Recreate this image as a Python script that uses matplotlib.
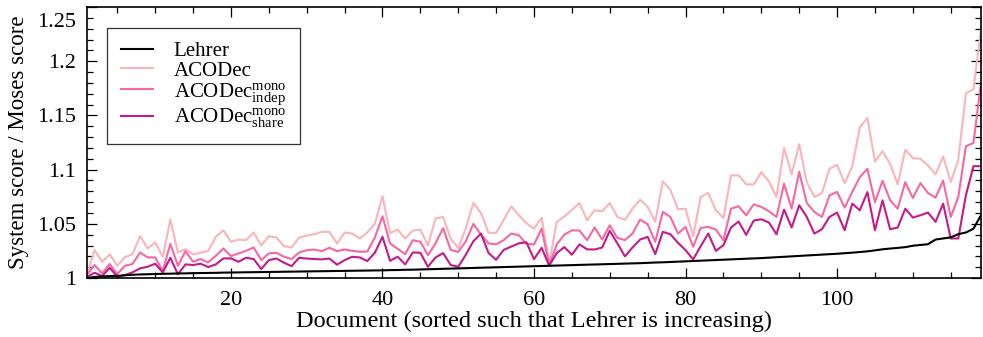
import numpy as np
import matplotlib
matplotlib.use("Agg")
import matplotlib.pyplot as plt
from matplotlib.ticker import MultipleLocator, FuncFormatter
from matplotlib.transforms import ScaledTranslation

plt.rcParams['font.family'] = ['Liberation Serif', 'DejaVu Serif']
plt.rcParams['mathtext.fontset'] = 'custom'
plt.rcParams['mathtext.rm'] = 'Liberation Serif'
plt.rcParams['mathtext.it'] = 'Liberation Serif:italic'

# score ratios per document (documents sorted by Lehrer)
lehrer = [
    1.0000, 1.0010, 1.0015, 1.0018, 1.0020, 1.0025, 1.0030, 1.0033, 1.0035, 1.0037,
    1.0039, 1.0040, 1.0042, 1.0043, 1.0045, 1.0046, 1.0047, 1.0048, 1.0050, 1.0051,
    1.0052, 1.0053, 1.0054, 1.0055, 1.0056, 1.0057, 1.0058, 1.0059, 1.0060, 1.0061,
    1.0062, 1.0063, 1.0064, 1.0065, 1.0066, 1.0067, 1.0068, 1.0069, 1.0070, 1.0071,
    1.0073, 1.0074, 1.0076, 1.0077, 1.0079, 1.0081, 1.0083, 1.0085, 1.0087, 1.0089,
    1.0091, 1.0093, 1.0095, 1.0097, 1.0099, 1.0101, 1.0103, 1.0105, 1.0107, 1.0109,
    1.0111, 1.0113, 1.0115, 1.0117, 1.0119, 1.0121, 1.0123, 1.0125, 1.0127, 1.0129,
    1.0131, 1.0133, 1.0135, 1.0137, 1.0140, 1.0143, 1.0145, 1.0148, 1.0151, 1.0154,
    1.0157, 1.0160, 1.0163, 1.0166, 1.0169, 1.0172, 1.0175, 1.0178, 1.0181, 1.0184,
    1.0188, 1.0192, 1.0196, 1.0200, 1.0204, 1.0208, 1.0212, 1.0216, 1.0220, 1.0224,
    1.0229, 1.0234, 1.0240, 1.0246, 1.0255, 1.0265, 1.0272, 1.0278, 1.0285, 1.0298,
    1.0305, 1.0312, 1.0355, 1.0365, 1.0375, 1.0405, 1.0420, 1.0455, 1.0580,
]

acodec = [
    1.0030, 1.0257, 1.0150, 1.0218, 1.0113, 1.0193, 1.0218, 1.0386, 1.0273, 1.0328,
    1.0196, 1.0539, 1.0236, 1.0267, 1.0218, 1.0233, 1.0251, 1.0380, 1.0440, 1.0334,
    1.0355, 1.0350, 1.0420, 1.0300, 1.0386, 1.0374, 1.0294, 1.0282, 1.0374, 1.0392,
    1.0404, 1.0426, 1.0426, 1.0319, 1.0420, 1.0410, 1.0365, 1.0420, 1.0500, 1.0755,
    1.0414, 1.0447, 1.0365, 1.0438, 1.0447, 1.0300, 1.0548, 1.0564, 1.0365, 1.0275,
    1.0460, 1.0693, 1.0600, 1.0417, 1.0417, 1.0536, 1.0662, 1.0579, 1.0505, 1.0456,
    1.0558, 1.0130, 1.0518, 1.0567, 1.0628, 1.0692, 1.0533, 1.0625, 1.0616, 1.0692,
    1.0564, 1.0537, 1.0640, 1.0723, 1.0656, 1.0518, 1.0892, 1.0815, 1.0634, 1.0640,
    1.0386, 1.0748, 1.0785, 1.0625, 1.0554, 1.0947, 1.0947, 1.0864, 1.0864, 1.0977,
    1.0892, 1.0748, 1.1201, 1.0956, 1.1235, 1.0885, 1.0748, 1.0784, 1.1008, 1.1045,
    1.0876, 1.1029, 1.1390, 1.1477, 1.1075, 1.1170, 1.1054, 1.0864, 1.1183, 1.1106,
    1.1100, 1.1039, 1.0956, 1.1121, 1.0885, 1.1091, 1.1703, 1.1743, 1.2295,
]

acodec_indep = [
    1.0030, 1.0120, 1.0043, 1.0129, 1.0037, 1.0113, 1.0129, 1.0236, 1.0190, 1.0190,
    1.0064, 1.0316, 1.0113, 1.0248, 1.0150, 1.0175, 1.0144, 1.0205, 1.0273, 1.0202,
    1.0227, 1.0251, 1.0282, 1.0165, 1.0227, 1.0233, 1.0196, 1.0175, 1.0236, 1.0257,
    1.0263, 1.0248, 1.0279, 1.0248, 1.0263, 1.0251, 1.0242, 1.0245, 1.0374, 1.0570,
    1.0319, 1.0270, 1.0220, 1.0349, 1.0334, 1.0211, 1.0320, 1.0460, 1.0260, 1.0240,
    1.0340, 1.0500, 1.0400, 1.0320, 1.0310, 1.0350, 1.0410, 1.0395, 1.0315, 1.0310,
    1.0456, 1.0120, 1.0310, 1.0400, 1.0440, 1.0438, 1.0350, 1.0466, 1.0355, 1.0487,
    1.0370, 1.0350, 1.0410, 1.0539, 1.0496, 1.0334, 1.0610, 1.0564, 1.0410, 1.0472,
    1.0288, 1.0462, 1.0472, 1.0447, 1.0349, 1.0640, 1.0662, 1.0579, 1.0680, 1.0656,
    1.0616, 1.0564, 1.0870, 1.0640, 1.0980, 1.0692, 1.0610, 1.0564, 1.0763, 1.0794,
    1.0650, 1.0794, 1.0931, 1.1008, 1.0699, 1.0898, 1.0717, 1.0640, 1.0885, 1.0738,
    1.0876, 1.0784, 1.0741, 1.0900, 1.0564, 1.0747, 1.1216, 1.1247, 1.1800,
]

acodec_share = [
    1.0010, 1.0049, 1.0018, 1.0095, 1.0012, 1.0028, 1.0052, 1.0089, 1.0104, 1.0132,
    1.0052, 1.0187, 1.0034, 1.0126, 1.0120, 1.0132, 1.0101, 1.0126, 1.0181, 1.0181,
    1.0150, 1.0187, 1.0175, 1.0083, 1.0165, 1.0180, 1.0141, 1.0110, 1.0187, 1.0180,
    1.0175, 1.0172, 1.0180, 1.0123, 1.0165, 1.0196, 1.0190, 1.0156, 1.0235, 1.0380,
    1.0159, 1.0196, 1.0126, 1.0236, 1.0233, 1.0104, 1.0190, 1.0230, 1.0120, 1.0104,
    1.0215, 1.0340, 1.0410, 1.0230, 1.0168, 1.0260, 1.0290, 1.0320, 1.0330, 1.0174,
    1.0279, 1.0115, 1.0230, 1.0285, 1.0215, 1.0310, 1.0265, 1.0263, 1.0282, 1.0435,
    1.0320, 1.0200, 1.0282, 1.0355, 1.0380, 1.0220, 1.0426, 1.0404, 1.0325, 1.0257,
    1.0172, 1.0294, 1.0410, 1.0251, 1.0303, 1.0466, 1.0521, 1.0398, 1.0530, 1.0542,
    1.0512, 1.0404, 1.0631, 1.0466, 1.0671, 1.0564, 1.0410, 1.0450, 1.0564, 1.0604,
    1.0441, 1.0686, 1.0625, 1.0793, 1.0441, 1.0717, 1.0450, 1.0466, 1.0640, 1.0558,
    1.0579, 1.0604, 1.0518, 1.0686, 1.0365, 1.0365, 1.0763, 1.1032, 1.1032,
]

docs = np.arange(1, len(lehrer) + 1)

fig = plt.figure(figsize=(9.83, 3.37), dpi=100)
ax = fig.add_axes([0.0885, 0.175, 0.9095, 0.804])

lw = 1.5
ax.plot(docs, lehrer, color='black', lw=lw, label='Lehrer', zorder=5)
ax.plot(docs, acodec, color='#fbb4b9', lw=lw, label='ACODec')
ax.plot(docs, acodec_indep, color='#f768a1', lw=lw,
        label=r'ACODec$^{\rm mono}_{\rm indep}$')
ax.plot(docs, acodec_share, color='#c51b8a', lw=lw,
        label=r'ACODec$^{\rm mono}_{\rm share}$')

ax.set_xlim(1, len(lehrer))
ax.set_ylim(1, 1.25)
ax.xaxis.set_major_locator(MultipleLocator(20))
ax.xaxis.set_minor_locator(MultipleLocator(5))
ax.yaxis.set_major_locator(MultipleLocator(0.05))
ax.yaxis.set_minor_locator(MultipleLocator(0.01))
ax.yaxis.set_major_formatter(FuncFormatter(lambda v, p: '%g' % round(v, 4)))
ax.tick_params(which='both', direction='in', top=True, right=True,
               labelsize=16, width=0.9)
ax.tick_params(which='major', length=7)
ax.tick_params(which='minor', length=4)
ax.tick_params(axis='x', pad=9)
ax.tick_params(axis='y', pad=8)
for s in ax.spines.values():
    s.set_linewidth(1.2)

ax.set_xlabel('Document (sorted such that Lehrer is increasing)',
              fontsize=17.5, labelpad=1)
ax.set_ylabel('System score / Moses score', fontsize=16.5, labelpad=6)

leg = ax.legend(loc='upper left', bbox_to_anchor=(0.0224, 0.9225), fontsize=15,
                frameon=True, fancybox=False, edgecolor='black',
                handlelength=1.55, handletextpad=1.0, labelspacing=0.0,
                borderpad=0.65, borderaxespad=0)
leg.get_frame().set_linewidth(0.9)

# the top y label sits a bit below its tick in the original
fig.canvas.draw()
for lab in ax.get_yticklabels():
    if lab.get_text() == '1.25':
        lab.set_transform(lab.get_transform() +
                          ScaledTranslation(0, -0.13, fig.dpi_scale_trans))

fig.savefig('out.png', dpi=100)
